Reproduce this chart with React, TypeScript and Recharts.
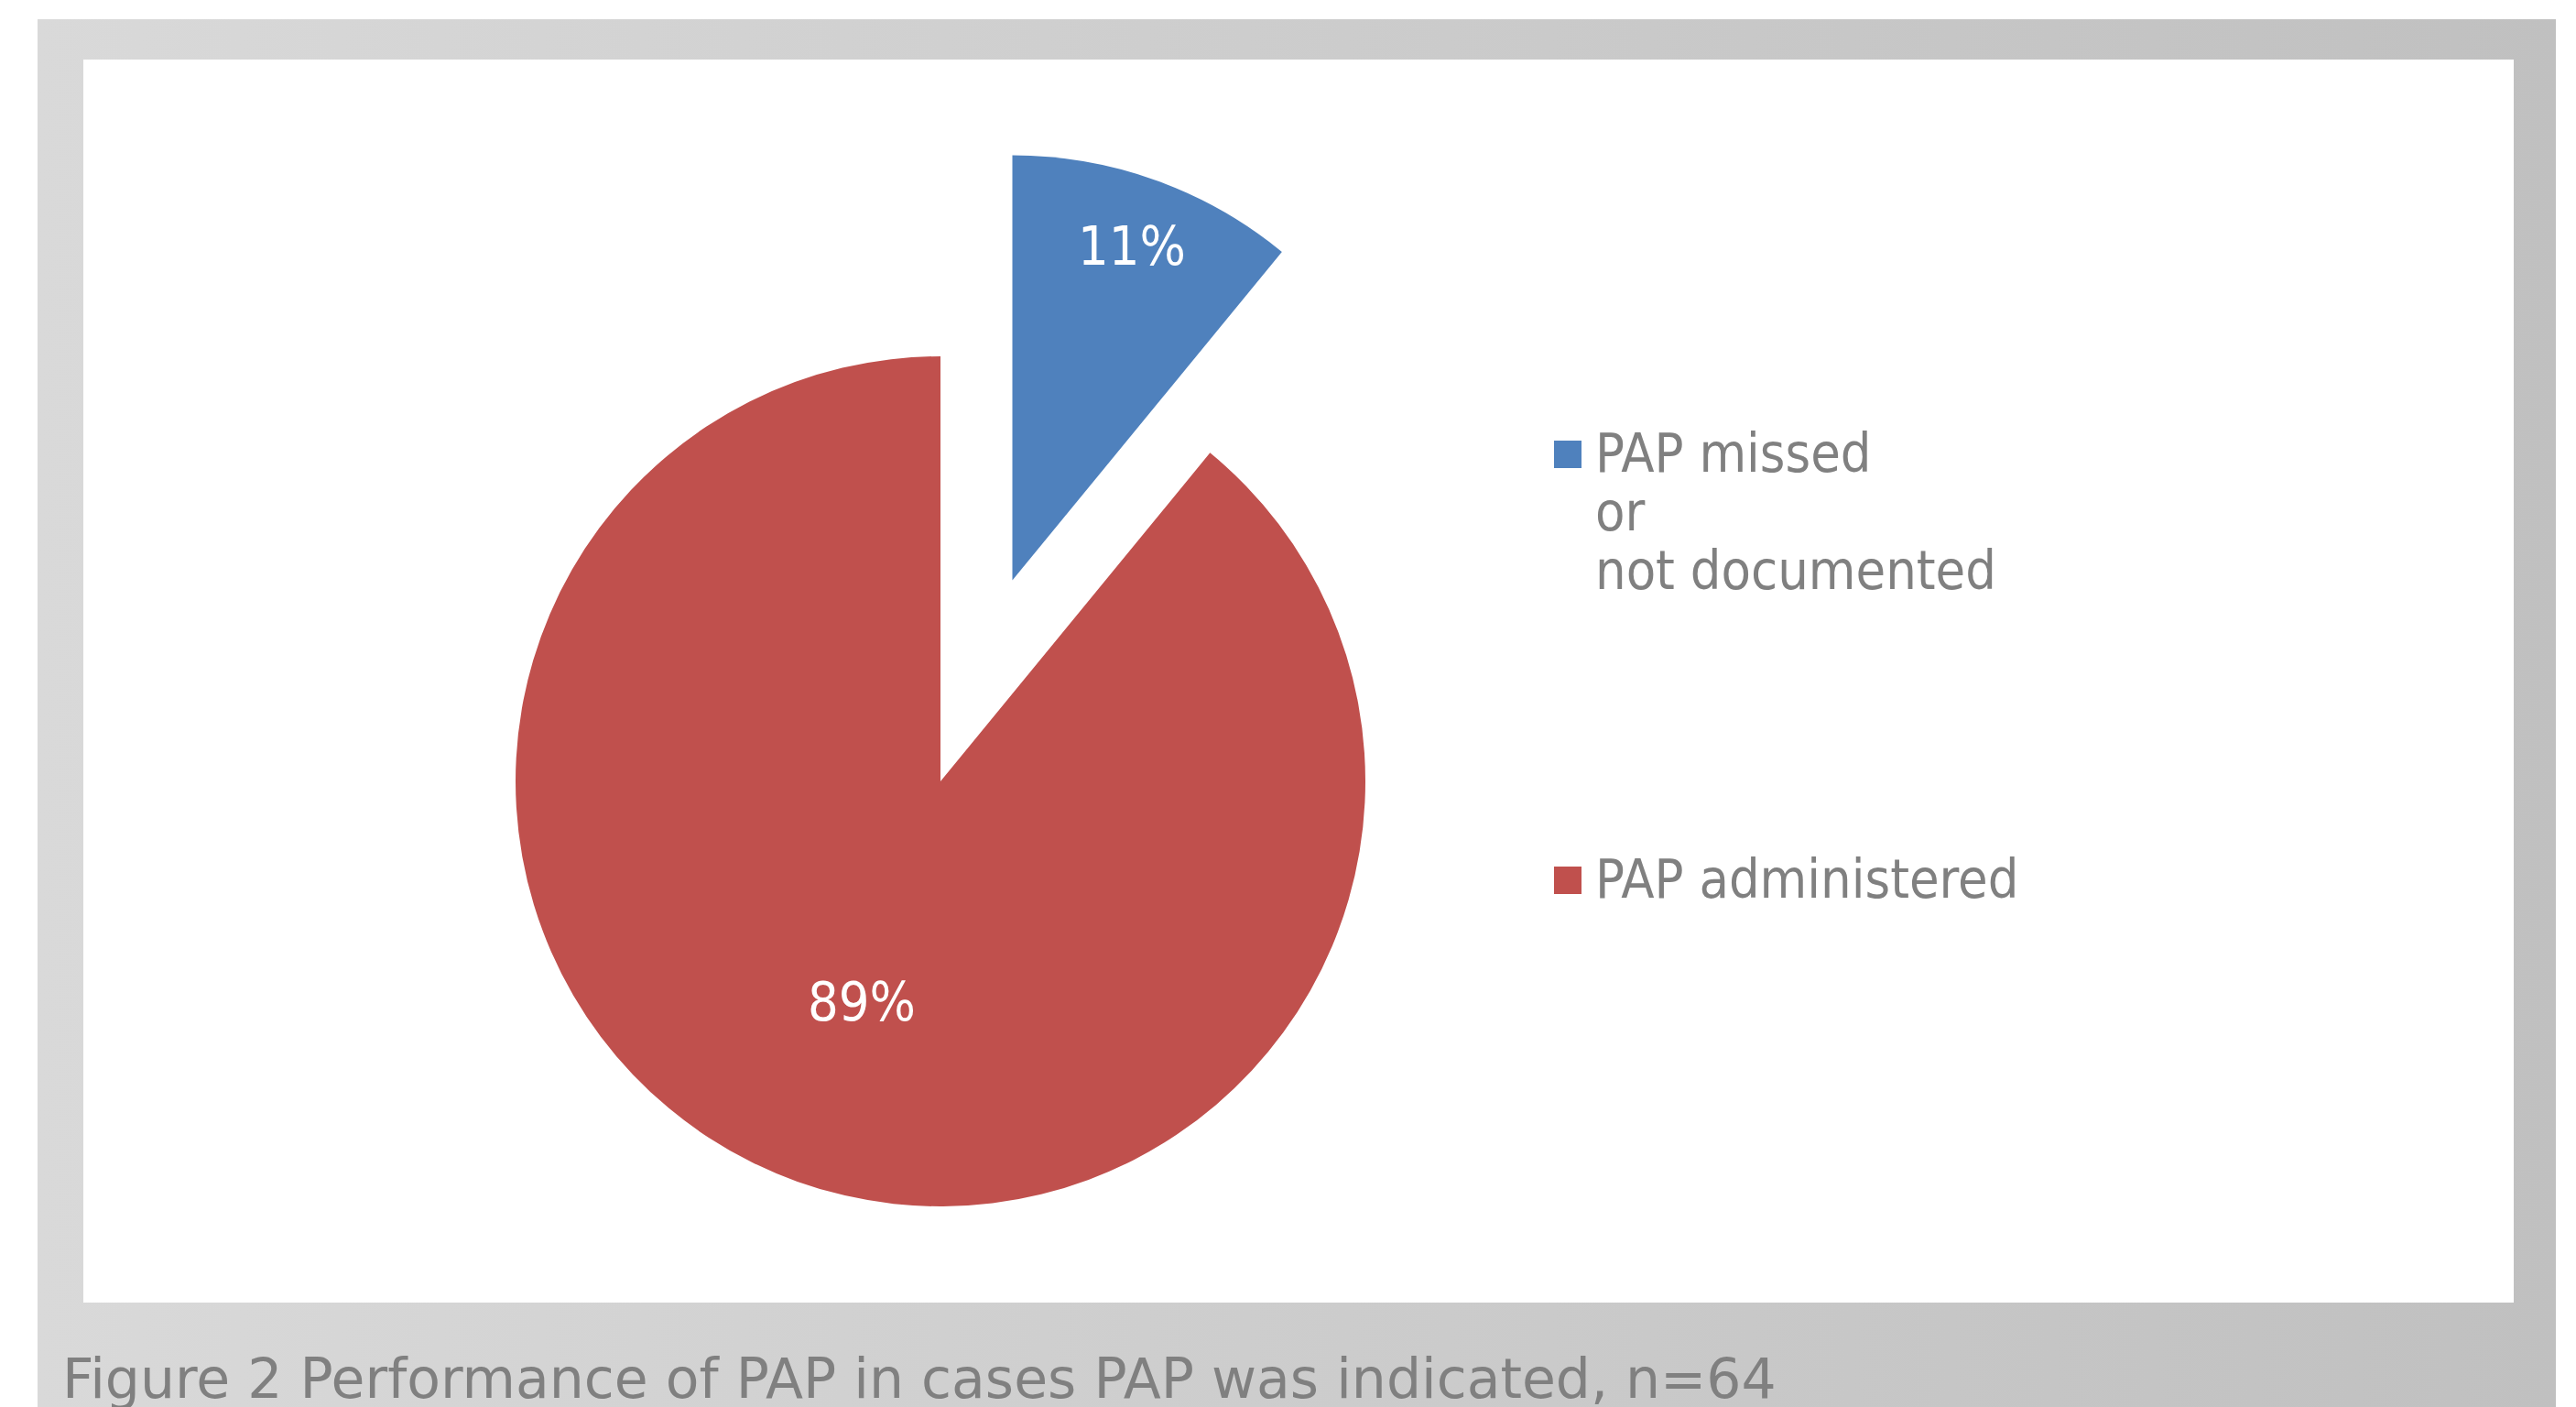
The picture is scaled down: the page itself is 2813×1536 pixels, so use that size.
import * as React from "react"
import { PieChart, Pie, Cell, Legend } from "recharts"

// n=64 cases where PAP was indicated
const categories = ["PAP missed\nor\nnot documented", "PAP administered"]
const counts = [7, 57]
const colors = ["#4f81bd", "#c0504d"]

const data = categories.map((name, i) => ({ name, value: counts[i] }))

const RADIAN = Math.PI / 180
const CX = 936
const CY = 788
const R = 464
const EXPLODE = 233

// the first slice is pulled out along its mid angle
const total = counts.reduce((a, b) => a + b, 0)
const explodedMid = 90 - (360 * counts[0]) / total / 2
const dx = EXPLODE * Math.cos(explodedMid * RADIAN)
const dy = -EXPLODE * Math.sin(explodedMid * RADIAN)

const labelFont = "'DejaVu Sans Condensed', 'DejaVu Sans', sans-serif"

const makeLabel = (only: number, ratio: number) => (props: any) => {
  const { cx, cy, midAngle, outerRadius, percent, index } = props
  if (index !== only) return null
  const r = outerRadius * ratio
  const x = cx + r * Math.cos(-midAngle * RADIAN)
  const y = cy + r * Math.sin(-midAngle * RADIAN)
  return (
    <text
      x={x}
      y={y}
      fill="#ffffff"
      textAnchor="middle"
      dominantBaseline="central"
      style={{ fontFamily: labelFont, fontStretch: "condensed", fontSize: 59 }}
    >
      {`${Math.round(percent * 100)}%`}
    </text>
  )
}

function LegendBox() {
  return (
    <div style={{ fontFamily: labelFont, fontStretch: "condensed", fontSize: 59, lineHeight: "64px", color: "#808080" }}>
      {categories.map((c, i) => (
        <div key={c} style={{ display: "flex", alignItems: "flex-start", marginBottom: i === 0 ? 273 : 0 }}>
          <div style={{ width: 30, height: 30, background: colors[i], marginTop: 18, marginRight: 15, flexShrink: 0 }} />
          <div style={{ whiteSpace: "pre-line" }}>{c}</div>
        </div>
      ))}
    </div>
  )
}

export default function App() {
  return (
    <div style={{ position: "absolute", left: 0, top: 0, width: 2813, height: 1536, background: "#fff", overflow: "hidden" }}>
      <div
        style={{
          position: "absolute",
          left: 41,
          top: 21,
          width: 2750,
          height: 1515,
          background: "linear-gradient(to right, #d9d9d9, #c0c0c0)",
        }}
      />
      <div style={{ position: "absolute", left: 91, top: 65, width: 2654, height: 1357, background: "#fff" }}>
        <PieChart width={2654} height={1357} margin={{ top: 0, right: 0, bottom: 0, left: 0 }}>
          <Pie
            data={data}
            dataKey="value"
            nameKey="name"
            cx={CX}
            cy={CY}
            outerRadius={R}
            startAngle={90}
            endAngle={-270}
            stroke="none"
            labelLine={false}
            label={makeLabel(1, 0.55)}
            isAnimationActive={false}
          >
            {data.map((d, i) => (
              <Cell key={d.name} fill={i === 1 ? colors[1] : "transparent"} />
            ))}
          </Pie>
          <Pie
            data={data}
            dataKey="value"
            nameKey="name"
            cx={CX + dx}
            cy={CY + dy}
            outerRadius={R}
            startAngle={90}
            endAngle={-270}
            stroke="none"
            labelLine={false}
            label={makeLabel(0, 0.835)}
            isAnimationActive={false}
          >
            {data.map((d, i) => (
              <Cell key={d.name} fill={i === 0 ? colors[0] : "transparent"} />
            ))}
          </Pie>
          <Legend
            layout="vertical"
            align="right"
            verticalAlign="top"
            content={() => <LegendBox />}
            wrapperStyle={{ left: 1606, top: 398, width: 700, right: "auto" }}
          />
        </PieChart>
      </div>
      <div
        style={{
          position: "absolute",
          left: 68,
          top: 1470,
          fontFamily: "'DejaVu Sans', sans-serif",
          fontSize: 60,
          lineHeight: "70px",
          color: "#808080",
          whiteSpace: "nowrap",
        }}
      >
        Figure 2 Performance of PAP in cases PAP was indicated, n=64
      </div>
    </div>
  )
}
